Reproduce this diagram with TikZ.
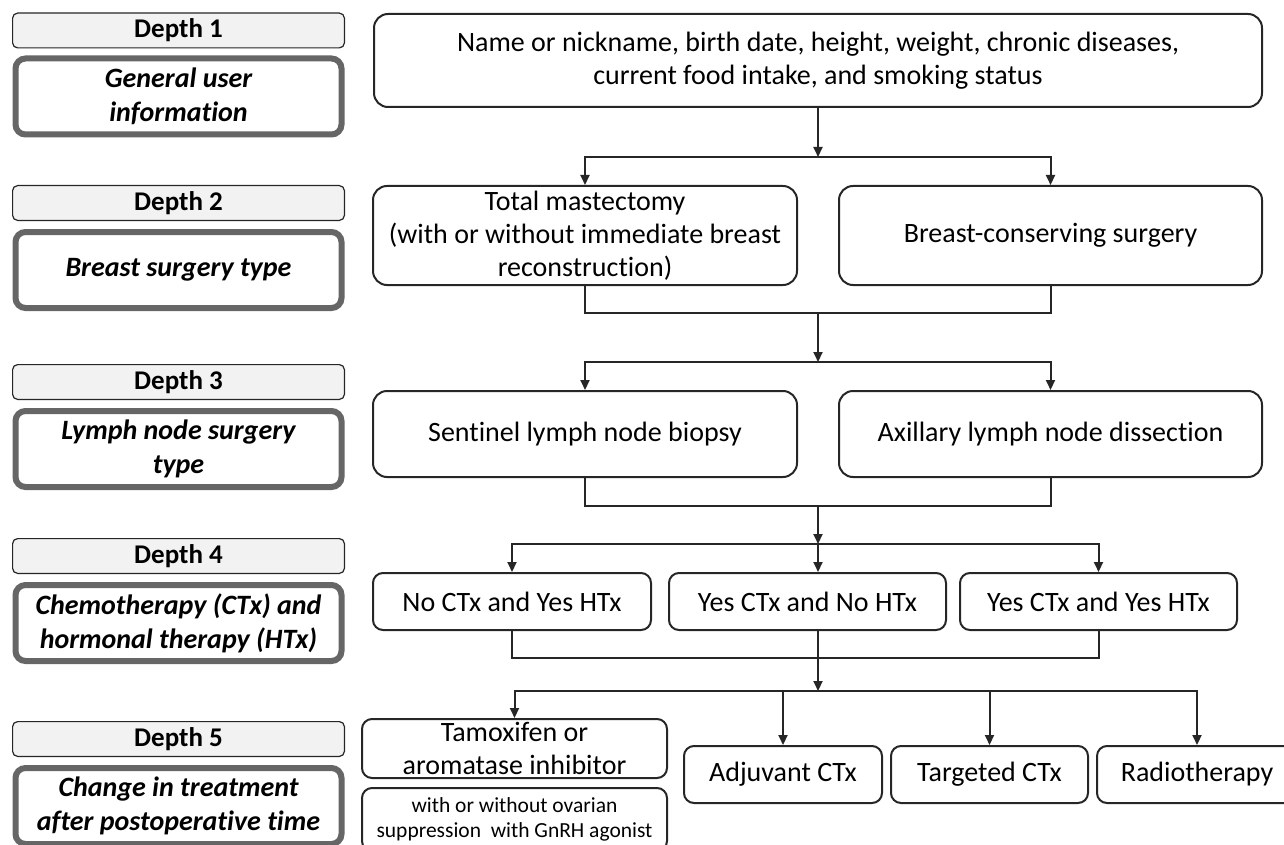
\documentclass[tikz,border=0pt]{standalone}
\usepackage{fontspec}
\setmainfont{Carlito}[Ligatures=NoCommon]
\usepackage{tikz}
\usetikzlibrary{positioning,arrows.meta}

\begin{document}
\begin{tikzpicture}[x=1pt,y=-1pt,node distance=8pt]
\tikzset{>={Triangle[length=10pt,width=9pt]}}
\tikzset{
  depthlbl/.style={draw=black!85,fill=black!5,line width=1.2pt,rounded corners=5pt,minimum width=331.8pt,minimum height=34.8pt,inner sep=0pt,font=\bfseries\fontsize{27}{30}\selectfont},
  catbox/.style={draw=black!60,line width=6pt,rounded corners=10pt,minimum width=326pt,minimum height=76pt,inner sep=0pt,align=center,font=\bfseries\itshape\fontsize{28}{34}\selectfont},
  infobox/.style={draw=black!85,line width=2pt,rounded corners=14pt,inner sep=0pt,align=center,font=\fontsize{28}{33}\selectfont},
  smallbox/.style={infobox,rounded corners=10pt},
  link/.style={draw=black!85,line width=2pt},
  arr/.style={link,->}
}
\useasboundingbox (0,0) rectangle (1284,845);

  \node[depthlbl] (d1) at (178.5,30.5) {Depth 1};
  \node[catbox] (c1) [below=7pt of d1] {General user\\information};
  \node[depthlbl] (d2) at (178.5,203) {Depth 2};
  \node[catbox] (c2) [below=of d2] {Breast surgery type};
  \node[depthlbl] (d3) at (178.5,382) {Depth 3};
  \node[catbox] (c3) [below=of d3] {Lymph node surgery\\type};
  \node[depthlbl] (d4) at (178.5,556) {Depth 4};
  \node[catbox] (c4) [below=of d4] {Chemotherapy (CTx) and\\hormonal therapy (HTx)};
  \node[depthlbl] (d5) at (178.5,739) {Depth 5};
  \node[catbox] (c5) [below=of d5] {Change in treatment\\after postoperative time};

  \node[infobox,minimum width=888pt,minimum height=93pt] (b1) at (818,60.5) {Name or nickname, birth date, height, weight, chronic diseases,\\current food intake, and smoking status};
  \node[infobox,minimum width=424pt,minimum height=99pt] (b2a) at (585,235.5) {Total mastectomy\\(with or without immediate breast\\reconstruction)};
  \node[infobox,minimum width=423pt,minimum height=99pt] (b2b) at (1050.5,235.5) {Breast-conserving surgery};
  \node[infobox,minimum width=424pt,minimum height=86pt] (b3a) at (585,434) {Sentinel lymph node biopsy};
  \node[infobox,minimum width=423pt,minimum height=86pt] (b3b) at (1050.5,434) {Axillary lymph node dissection};
  \node[smallbox,minimum width=278pt,minimum height=57pt] (b4a) at (512,601.5) {No CTx and Yes HTx};
  \node[smallbox,minimum width=277pt,minimum height=57pt] (b4b) at (807.5,601.5) {Yes CTx and No HTx};
  \node[smallbox,minimum width=277pt,minimum height=57pt] (b4c) at (1098.5,601.5) {Yes CTx and Yes HTx};
  \node[smallbox,minimum width=305pt,minimum height=59pt] (b5a) at (514.5,748.5) {Tamoxifen or\\aromatase inhibitor};
  \node[smallbox,minimum width=305pt,minimum height=63pt,font=\fontsize{21.5}{25}\selectfont] (b5s) at (514.5,819.5) {with or without ovarian\\suppression\ \ with GnRH agonist};
  \node[smallbox,minimum width=198pt,minimum height=57pt] (b5b) at (783,774.5) {Adjuvant CTx};
  \node[smallbox,minimum width=197pt,minimum height=57pt] (b5c) at (989.5,774.5) {Targeted CTx};
  \node[smallbox,minimum width=200pt,minimum height=57pt] (b5d) at (1197,774.5) {Radiotherapy};

  \coordinate (j1) at (818,157);
  \coordinate (m2) at (818,313);
  \coordinate (j2) at (818,362);
  \coordinate (m3) at (818,506);
  \coordinate (j3) at (818,544);
  \coordinate (m4) at (818,658);
  \coordinate (j4) at (818,691);

  \draw[arr] (b1.south -| j1) -- (j1);
  \draw[arr] (j1) -| (b2a.north);
  \draw[arr] (j1) -| (b2b.north);
  \draw[link] (b2a.south) |- (m2) -| (b2b.south);
  \draw[arr] (m2) -- (j2);
  \draw[arr] (j2) -| (b3a.north);
  \draw[arr] (j2) -| (b3b.north);
  \draw[link] (b3a.south) |- (m3) -| (b3b.south);
  \draw[arr] (m3) -- (j3);
  \draw[arr] (j3) -| (b4a.north);
  \draw[arr] (j3) -- (j3 |- b4b.north);
  \draw[arr] (j3) -| (b4c.north);
  \draw[link] (b4a.south) |- (m4) -| (b4c.south);
  \draw[arr] (m4 |- b4b.south) -- (j4);
  \draw[arr] (j4) -| (b5a.north);
  \draw[arr] (j4) -| (b5b.north);
  \draw[arr] (j4) -| (b5c.north);
  \draw[arr] (j4) -| (b5d.north);
\end{tikzpicture}
\end{document}
